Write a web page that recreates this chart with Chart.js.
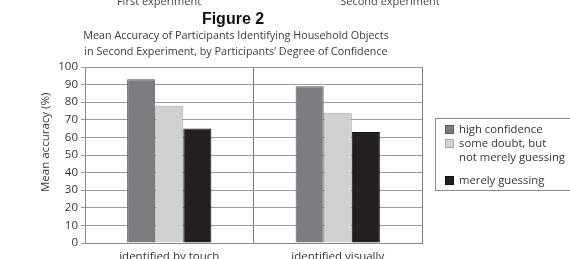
<!DOCTYPE html>
<html>
<head>
<meta charset="utf-8">
<script src="https://cdn.jsdelivr.net/npm/chart.js@4/dist/chart.umd.min.js"></script>
<style>
  html, body { margin: 0; padding: 0; background: #fff; }
  #wrap { position: relative; width: 570px; height: 259px; overflow: hidden; font-family: "Open Sans", sans-serif; color: #3a3a3a; }
  #c { position: absolute; left: 0; top: 0; }
  .t { position: absolute; white-space: nowrap; transform: translateX(-50%); }
  #fig { font-family: "Liberation Sans", Arial, sans-serif; font-weight: bold; font-size: 16px; color: #111; left: 233px; top: 10px; }
  .sub { font-size: 10.8px; color: #3a3a3a; }
  .top { font-size: 11px; color: #444; }
  #ytitle { position: absolute; left: 37px; top: 96px; height: 96px; line-height: 15px; writing-mode: vertical-rl; transform: rotate(180deg); text-align: center; font-size: 11.5px; font-weight: 400; white-space: nowrap; color: #333; }
  #legend { position: absolute; left: 435px; top: 118px; width: 150px; height: 73px; border: 1px solid #8a8a8a; box-sizing: border-box; font-size: 11.3px; color: #333; }
  .li { position: absolute; left: 23px; line-height: 13.5px; white-space: nowrap; }
  .sw { position: absolute; left: 9px; width: 9px; height: 9px; box-sizing: border-box; }
</style>
</head>
<body>
<div id="wrap">
  <canvas id="c" width="570" height="259"></canvas>
  <div class="t top" style="left:159px; top:-7px;">First experiment</div>
  <div class="t top" style="left:390px; top:-7px;">Second experiment</div>
  <div class="t" id="fig">Figure 2</div>
  <div class="t sub" style="left:236px; top:27px;">Mean Accuracy of Participants Identifying Household Objects</div>
  <div class="t sub" style="left:236px; top:43px;">in Second Experiment, by Participants’ Degree of Confidence</div>
  <div id="ytitle">Mean accuracy (%)</div>
  <div id="legend"></div>
</div>
<script>
const categories = ["identified by touch", "identified visually"];
const seriesNames = ["high confidence", "some doubt, but not merely guessing", "merely guessing"];
const legendLines = [["high confidence"], ["some doubt, but", "not merely guessing"], ["merely guessing"]];
const highConfidence = [93, 89];
const someDoubt = [78, 74];
const merelyGuessing = [65, 63];
const yTicks = [0, 10, 20, 30, 40, 50, 60, 70, 80, 90, 100];

const fills = ["#7c7d80", "#d0d1d3", "#231f20"];
const borders = ["#5a5a5c", "#a8a9ab", "#111111"];
const values = [highConfidence, someDoubt, merelyGuessing];

const chart = new Chart(document.getElementById("c"), {
  type: "bar",
  data: {
    labels: categories,
    datasets: values.map((v, i) => ({
      label: seriesNames[i],
      data: v,
      backgroundColor: fills[i],
      borderColor: borders[i],
      borderWidth: 1,
      categoryPercentage: 0.5,
      barPercentage: 1.0
    }))
  },
  options: {
    responsive: false,
    animation: false,
    devicePixelRatio: 1,
    layout: { padding: { left: 0, top: 67, right: 148, bottom: 0 } },
    plugins: { legend: { display: false }, tooltip: { enabled: false }, title: { display: false } },
    scales: {
      x: {
        grid: { display: true, offset: true, color: "#777", lineWidth: 1, drawTicks: false, tickLength: 0 },
        border: { display: true, color: "#888" },
        ticks: { color: "#333", font: { family: "Open Sans", size: 11.5 }, padding: 7, maxRotation: 0 },
        afterFit: s => { s.height = 16; }
      },
      y: {
        min: 0, max: 100,
        afterBuildTicks: s => { s.ticks = yTicks.map(v => ({ value: v })); },
        grid: { color: "#9a9a9a", lineWidth: 1, drawTicks: true, tickLength: 4 },
        border: { display: true, color: "#888" },
        ticks: { color: "#333", font: { family: "Open Sans", size: 11.5 }, padding: 3 },
        afterFit: s => { s.width = 85; }
      }
    }
  }
});

const leg = document.getElementById("legend");
const tops = [3, 17, 54];
const swTops = [6, 20, 57];
legendLines.forEach((lines, i) => {
  const sw = document.createElement("div");
  sw.className = "sw";
  sw.style.top = swTops[i] + "px";
  sw.style.background = fills[i];
  sw.style.border = "1px solid " + borders[i];
  leg.appendChild(sw);
  const t = document.createElement("div");
  t.className = "li";
  t.style.top = tops[i] + "px";
  t.innerHTML = lines.join("<br>");
  leg.appendChild(t);
});
</script>
</body>
</html>
